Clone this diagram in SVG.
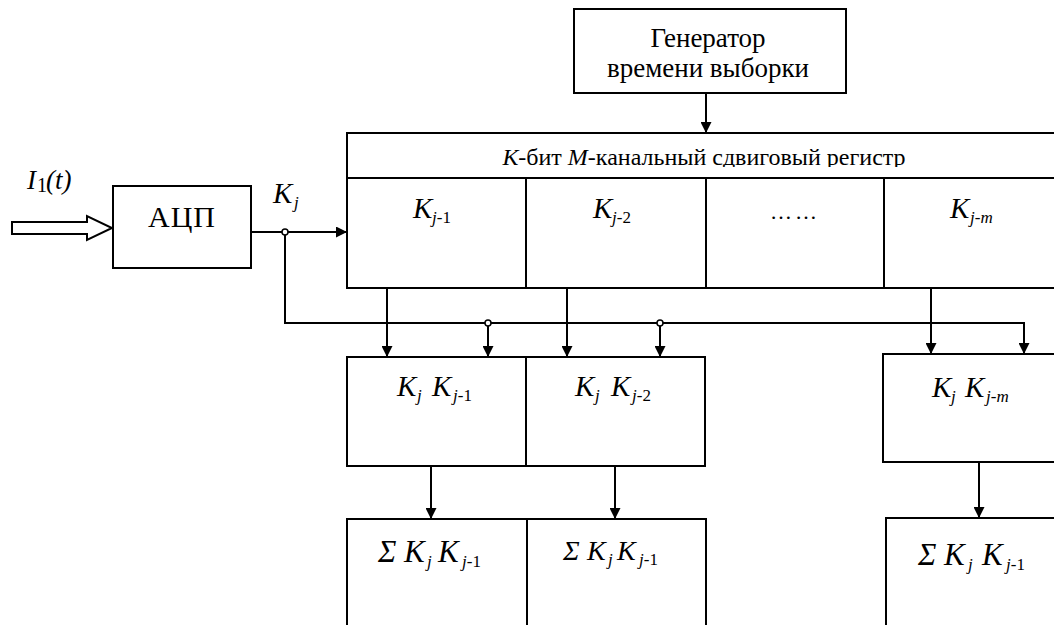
<svg xmlns="http://www.w3.org/2000/svg" width="1054" height="625" viewBox="0 0 1054 625">
  <style>
    .box { fill: #fff; stroke: #000; stroke-width: 2; }
    .wire { fill: none; stroke: #000; stroke-width: 2; }
    text { font-family: "Liberation Serif", "Times New Roman", serif; fill: #000; }
    .i { font-style: italic; }
    .n { font-style: normal; }
    .sub { font-size: 17px; }
    .jct { fill: #fff; stroke: #000; stroke-width: 1.5; }
  </style>
  <defs>
    <marker id="arr" viewBox="0 0 10 10" refX="10" refY="5" markerWidth="11" markerHeight="11" markerUnits="userSpaceOnUse" orient="auto">
      <path d="M0,0 L10,5 L0,10 z" fill="#000"/>
    </marker>
    <clipPath id="hdrClip">
      <rect x="347" y="133" width="720" height="34"/>
    </clipPath>
  </defs>

  <!-- input signal -->
  <g id="input">
    <polygon class="wire" points="12,222 87,222 87,216 112,228 87,240 87,234 12,234"/>
    <text class="i" x="27" y="189" font-size="27">I<tspan class="n" x="37" y="192" font-size="20">1</tspan><tspan x="46" y="189">(t)</tspan></text>
  </g>

  <!-- ADC -->
  <g id="adc">
    <rect class="box" x="113" y="186" width="138" height="82"/>
    <text x="182" y="227" font-size="30" letter-spacing="1" text-anchor="middle">АЦП</text>
  </g>

  <!-- sampling time generator -->
  <g id="generator">
    <rect class="box" x="574" y="9" width="272" height="84"/>
    <text x="708" y="47" font-size="27" text-anchor="middle">Генератор</text>
    <text x="708" y="77" font-size="27" text-anchor="middle">времени выборки</text>
  </g>

  <!-- K-bit M-channel shift register -->
  <g id="register">
    <rect class="box" x="347" y="133" width="720" height="45"/>
    <text x="704" y="165" font-size="24" text-anchor="middle" clip-path="url(#hdrClip)"><tspan class="i">К</tspan>-бит <tspan class="i">М</tspan>-канальный сдвиговый регистр</text>
    <rect class="box" x="347" y="178" width="720" height="110"/>
    <line class="wire" x1="526" y1="178" x2="526" y2="288"/>
    <line class="wire" x1="706" y1="178" x2="706" y2="288"/>
    <line class="wire" x1="884" y1="178" x2="884" y2="288"/>
    <text class="i" x="413" y="218" font-size="29">K<tspan class="sub" x="432" y="223">j</tspan><tspan class="sub n">-1</tspan></text>
    <text class="i" x="593" y="218" font-size="29">K<tspan class="sub" x="612" y="223">j</tspan><tspan class="sub n">-2</tspan></text>
    <text x="795" y="219" font-size="22" text-anchor="middle" letter-spacing="3">……</text>
    <text class="i" x="950" y="218" font-size="29">K<tspan class="sub" x="970" y="223">j-m</tspan></text>
  </g>

  <!-- products -->
  <g id="prod1">
    <rect class="box" x="347" y="357" width="179" height="109"/>
    <text class="i" x="397" y="396" font-size="29">K<tspan class="sub" x="417" y="401">j</tspan><tspan x="432" y="396">K</tspan><tspan class="sub" x="453" y="401">j</tspan><tspan class="sub n">-1</tspan></text>
  </g>
  <g id="prod2">
    <rect class="box" x="526" y="357" width="179" height="109"/>
    <text class="i" x="575" y="396" font-size="29">K<tspan class="sub" x="595" y="401">j</tspan><tspan x="611" y="396">K</tspan><tspan class="sub" x="632" y="401">j</tspan><tspan class="sub n">-2</tspan></text>
  </g>
  <g id="prodm">
    <rect class="box" x="883" y="354" width="190" height="108"/>
    <text class="i" x="932" y="397" font-size="29">K<tspan class="sub" x="951" y="402">j</tspan><tspan x="965" y="397">K</tspan><tspan class="sub" x="986" y="402">j-m</tspan></text>
  </g>

  <!-- accumulators -->
  <g id="sum1">
    <rect class="box" x="347" y="519" width="180" height="120"/>
    <text class="i" x="378" y="562" font-size="31">Σ<tspan x="404">K</tspan><tspan class="sub" font-size="19" x="427" y="567">j</tspan><tspan x="438" y="562">K</tspan><tspan class="sub" font-size="19" x="462" y="567">j</tspan><tspan class="sub n" font-size="19">-1</tspan></text>
  </g>
  <g id="sum2">
    <rect class="box" x="527" y="519" width="179" height="120"/>
    <text class="i" x="563" y="560" font-size="28">Σ<tspan x="587">K</tspan><tspan class="sub" x="608" y="565">j</tspan><tspan x="617" y="560">K</tspan><tspan class="sub" x="639" y="565">j</tspan><tspan class="sub n">-1</tspan></text>
  </g>
  <g id="summ">
    <rect class="box" x="886" y="518" width="190" height="120"/>
    <text class="i" x="918" y="565" font-size="31">Σ<tspan x="944">K</tspan><tspan class="sub" font-size="19" x="968" y="570">j</tspan><tspan x="982" y="565">K</tspan><tspan class="sub" font-size="19" x="1006" y="570">j</tspan><tspan class="sub n" font-size="19">-1</tspan></text>
  </g>

  <!-- ADC output label -->
  <text class="i" x="273" y="203" font-size="29">K<tspan class="sub" x="294" y="208">j</tspan></text>

  <!-- connectors -->
  <g id="connectors">
    <line class="wire" x1="251" y1="232" x2="347" y2="232" marker-end="url(#arr)"/>
    <polyline class="wire" points="285,232 285,323 1024,323 1024,354" marker-end="url(#arr)"/>
    <line class="wire" x1="706" y1="93" x2="706" y2="133" marker-end="url(#arr)"/>
    <line class="wire" x1="387" y1="288" x2="387" y2="357" marker-end="url(#arr)"/>
    <line class="wire" x1="567" y1="288" x2="567" y2="357" marker-end="url(#arr)"/>
    <line class="wire" x1="931" y1="288" x2="931" y2="354" marker-end="url(#arr)"/>
    <line class="wire" x1="488" y1="323" x2="488" y2="357" marker-end="url(#arr)"/>
    <line class="wire" x1="660" y1="323" x2="660" y2="357" marker-end="url(#arr)"/>
    <line class="wire" x1="431" y1="466" x2="431" y2="519" marker-end="url(#arr)"/>
    <line class="wire" x1="615" y1="466" x2="615" y2="519" marker-end="url(#arr)"/>
    <line class="wire" x1="979" y1="462" x2="979" y2="518" marker-end="url(#arr)"/>
    <circle class="jct" cx="285" cy="232" r="3"/>
    <circle class="jct" cx="488" cy="323" r="3"/>
    <circle class="jct" cx="660" cy="323" r="3"/>
  </g>
</svg>
